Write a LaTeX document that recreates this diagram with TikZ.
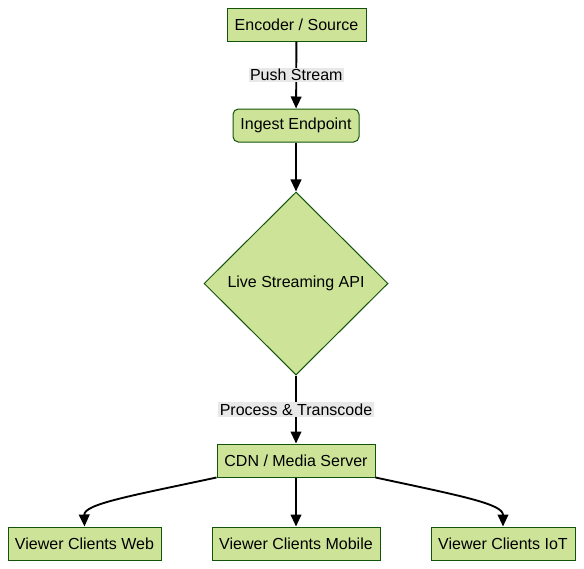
\documentclass[tikz,border=0pt]{standalone}
\usepackage{fontspec}
\setmainfont{Liberation Sans}
\usetikzlibrary{shapes.geometric,arrows.meta}
\definecolor{nodefill}{HTML}{CDE498}
\definecolor{nodeline}{HTML}{13540C}
\definecolor{lblbg}{HTML}{E8E8E8}
\tikzset{
  box/.style={draw=nodeline, fill=nodefill, line width=0.75pt, minimum height=33*0.75pt, inner sep=0pt, font=\fontsize{12}{14}\selectfont, text=black},
  decision/.style={diamond, draw=nodeline, fill=nodefill, line width=0.75pt, minimum width=184*0.75pt, minimum height=183*0.75pt, inner sep=0pt, font=\fontsize{12}{14}\selectfont, aspect=1},
  conn/.style={draw=black, line width=1.4pt, -{Triangle[length=9pt,width=8pt]}},
  lbl/.style={fill=lblbg, inner sep=1pt, font=\fontsize{12}{14}\selectfont, text=black}
}
\begin{document}
\begin{tikzpicture}[x=0.75pt,y=-0.75pt]
\useasboundingbox (0,0) rectangle (584,568);
\node[box, minimum width=139*0.75pt] (enc) at (296.5,24.5) {Encoder / Source};
\node[box, rounded corners=4pt, minimum width=126*0.75pt] (ing) at (296,125.5) {Ingest Endpoint};
\node[decision] (api) at (296,283.5) {Live Streaming API};
\node[box, minimum width=158*0.75pt] (cdn) at (296,460.5) {CDN / Media Server};
\node[box, minimum width=153*0.75pt] (web) at (84.5,543.5) {Viewer Clients Web};
\node[box, minimum width=168*0.75pt] (mob) at (296,543.5) {Viewer Clients Mobile};
\node[box, minimum width=144*0.75pt] (iot) at (503,543.5) {Viewer Clients IoT};

\draw[conn] (enc) -- node[lbl] {Push Stream} (ing);
\draw[conn] (ing) -- (api);
\draw[conn] (api) -- node[lbl, pos=0.5] {Process \& Transcode} (cdn);
\draw[conn] (cdn.south west) .. controls (130,496) and (84,504) .. (web.north);
\draw[conn] (cdn) -- (mob);
\draw[conn] (cdn.south east) .. controls (462,496) and (503,504) .. (iot.north);
\end{tikzpicture}
\end{document}
